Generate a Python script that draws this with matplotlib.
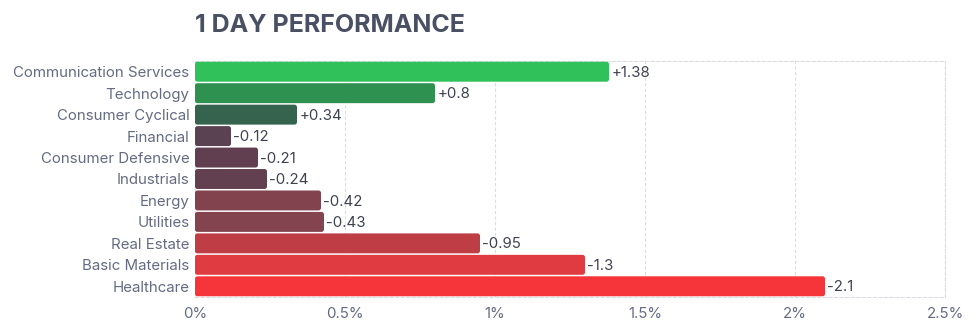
import matplotlib
matplotlib.use("Agg")
import matplotlib.pyplot as plt
from matplotlib.patches import FancyBboxPatch
import numpy as np

plt.rcParams['font.family'] = ['Inter', 'DejaVu Sans']

sectors = ["Communication Services", "Technology", "Consumer Cyclical", "Financial",
           "Consumer Defensive", "Industrials", "Energy", "Utilities",
           "Real Estate", "Basic Materials", "Healthcare"]
changes = [1.38, 0.8, 0.34, -0.12, -0.21, -0.24, -0.42, -0.43, -0.95, -1.3, -2.1]
colors = ["#30c15a", "#2f9150", "#36634d", "#5a4253", "#613f51", "#63404f",
          "#82434f", "#83434f", "#bf3e45", "#df3b40", "#f53539"]
xticks = [0, 0.5, 1, 1.5, 2, 2.5]
xtick_labels = ["0%", "0.5%", "1%", "1.5%", "2%", "2.5%"]

fig = plt.figure(figsize=(9.8, 3.23), dpi=100)
ax = fig.add_axes([195/980, 1 - 297/323, 750/980, 236/323])

y = np.arange(len(sectors))
widths = np.abs(changes)
bars = ax.barh(y, widths, height=0.93, color=colors, zorder=3)

# swap plain rectangles for slightly rounded ones
px_x = 750 / 2.5
px_y = 236 / len(sectors)
for b in bars:
    x0, y0 = b.get_x(), b.get_y()
    fb = FancyBboxPatch((x0, y0), b.get_width(), b.get_height(),
                        boxstyle="round,pad=0,rounding_size=%f" % (2.5 / px_x),
                        mutation_aspect=px_x / px_y,
                        facecolor=b.get_facecolor(), edgecolor="none", zorder=3)
    b.set_visible(False)
    ax.add_patch(fb)

for yi, v, w in zip(y, changes, widths):
    txt = f"+{v:g}" if v > 0 else f"-{abs(v):g}"
    ax.text(w + 0.008, yi + 0.05, txt, va="center", ha="left", fontsize=10.8,
            color="#3e4251", zorder=4)

ax.set_xlim(0, 2.5)
ax.set_ylim(len(sectors) - 0.5, -0.5)
ax.set_yticks(y)
ax.set_yticklabels(sectors, fontsize=10.8, color="#646b82")
ax.set_xticks(xticks)
ax.set_xticklabels(xtick_labels, fontsize=10.8, color="#646b82")
ax.tick_params(axis="both", length=0, pad=4)
ax.tick_params(axis="x", pad=7)

ax.grid(axis="x", color="#dcdde2", linestyle=(0, (3, 2)), linewidth=0.8, zorder=0)
for s in ax.spines.values():
    s.set_color("#dcdde2")
    s.set_linestyle((0, (3, 2)))
    s.set_linewidth(0.8)
ax.spines["left"].set_visible(False)

fig.text(195/980, 1 - 25/323, "1 DAY PERFORMANCE", fontsize=18, fontweight="bold",
         color="#4a5063", va="center", ha="left")

fig.savefig("out.png", dpi=100)
